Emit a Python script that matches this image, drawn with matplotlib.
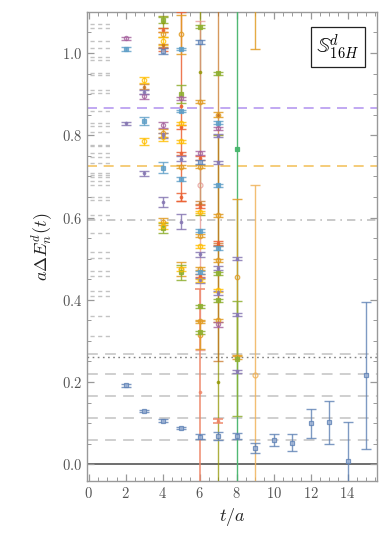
import numpy as np
import matplotlib
matplotlib.use("Agg")
import matplotlib.pyplot as plt

plt.rcParams['mathtext.fontset'] = 'cm'
plt.rcParams['font.family'] = ['DejaVu Serif']

# ---------------- data ----------------
# (t, value, error) triples, grouped by colour of the series
pts_blue = [(2, 0.192, 0.003), (3, 0.130, 0.003), (4, 0.106, 0.003), (5, 0.088, 0.003),
            (6, 0.067, 0.006), (7, 0.068, 0.010), (8, 0.069, 0.008), (9, 0.040, 0.012),
            (10, 0.059, 0.014), (11, 0.053, 0.020), (12, 0.100, 0.035), (13, 0.102, 0.053),
            (14, 0.008, 0.096), (15, 0.216, 0.178),
            (4, 1.005, 0.007), (6, 1.027, 0.004), (6, 0.735, 0.004)]
pts_purple = [(2, 0.829, 0.003), (3, 0.708, 0.006), (3, 0.905, 0.005), (4, 0.637, 0.012),
              (4, 0.800, 0.006), (5, 0.590, 0.019), (5, 0.743, 0.006), (6, 0.511, 0.006),
              (6, 0.447, 0.005), (7, 0.799, 0.004), (7, 0.734, 0.004), (7, 0.477, 0.005),
              (7, 0.417, 0.005), (8, 0.500, 0.004), (8, 0.364, 0.004), (8, 0.226, 0.004)]
pts_lightblue = [(2, 1.010, 0.004), (3, 0.835, 0.010), (4, 0.721, 0.013), (5, 1.010, 0.003),
                 (5, 0.859, 0.003), (5, 0.694, 0.004), (6, 0.568, 0.004), (6, 0.467, 0.004),
                 (7, 0.831, 0.004), (7, 0.678, 0.004), (7, 0.526, 0.004)]
pts_magenta = [(2, 1.036, 0.004), (3, 0.895, 0.006), (4, 0.825, 0.008), (5, 0.890, 0.004),
               (6, 0.757, 0.004), (7, 0.817, 0.004), (7, 0.340, 0.005)]
pts_gold = [(3, 0.935, 0.007), (3, 0.785, 0.008), (4, 1.030, 0.010), (4, 0.795, 0.010),
            (4, 0.580, 0.008), (5, 0.829, 0.004), (5, 0.785, 0.004), (5, 0.475, 0.004),
            (6, 0.614, 0.003), (6, 0.530, 0.004), (6, 0.447, 0.003), (7, 0.423, 0.004)]
pts_orange = [(4, 1.045, 0.005), (4, 0.590, 0.008), (4, 0.805, 0.010), (5, 1.045, 0.048),
              (5, 0.724, 0.004), (5, 0.476, 0.017), (6, 0.882, 0.004), (6, 0.724, 0.004),
              (6, 0.556, 0.004), (6, 0.476, 0.004), (6, 0.348, 0.004), (6, 0.314, 0.034),
              (7, 0.850, 0.006), (7, 0.605, 0.004), (7, 0.496, 0.004), (7, 0.350, 0.004),
              (8, 0.455, 0.190), (8, 0.260, 0.004), (9, 1.300, 0.290)]
pts_lightorange = [(9, 0.218, 0.460)]
pts_brown = [(3, 0.918, 0.006), (4, 1.019, 0.004), (6, 0.636, 0.004), (7, 0.534, 0.004),
             (7, 0.850, 0.600)]
pts_green = [(4, 1.080, 0.008), (4, 0.575, 0.012), (5, 0.900, 0.022), (5, 0.467, 0.018),
             (6, 0.384, 0.004), (6, 0.321, 0.004), (6, 1.064, 0.004), (7, 0.951, 0.004),
             (7, 0.464, 0.004), (7, 0.399, 0.004), (8, 0.2565, 0.140)]
pts_red = [(4, 1.056, 0.005), (4, 1.009, 0.004), (5, 0.870, 0.230), (5, 0.820, 0.004),
           (5, 0.756, 0.004), (5, 0.650, 0.010), (6, 0.745, 0.004), (6, 0.626, 0.004),
           (6, 0.459, 0.004), (7, 0.538, 0.004)]
pts_salmon = [(6, 0.176, 0.250), (7, 0.105, 0.004)]
pts_olive = [(4, 1.075, 0.014), (6, 0.955, 0.350), (7, 0.200, 0.600)]
pts_green2 = [(8, 0.767, 0.950)]
pts_pink = [(6, 0.678, 0.400)]

# reference levels (full width)
dashed_levels = [0.058, 0.112, 0.166, 0.219, 0.269]
dotted_level = 0.260
dashdot_level = 0.595
purple_level = 0.866
orange_level = 0.726
# short non-interacting levels drawn near t = 0..1
short_levels = [1.070, 1.061, 1.028, 1.013, 0.991, 0.983, 0.952, 0.947, 0.910, 0.902,
                0.858, 0.831, 0.823, 0.809, 0.777, 0.773, 0.757, 0.748, 0.732, 0.708,
                0.704, 0.698, 0.688, 0.680, 0.651, 0.643, 0.607, 0.562, 0.515, 0.502,
                0.469, 0.457, 0.421, 0.410, 0.360, 0.311]

x_ticks = [0, 2, 4, 6, 8, 10, 12, 14]
y_ticks = [0.0, 0.2, 0.4, 0.6, 0.8, 1.0]

# ---------------- figure ----------------
fig = plt.figure(figsize=(3.9, 5.39), dpi=100)
ax = fig.add_axes([0.223, 0.108, 0.744, 0.870])
ax.set_xlim(-0.1, 15.6)
ax.set_ylim(-0.04, 1.10)

# left short levels
for lv in short_levels:
    ax.plot([0.05, 1.15], [lv, lv], color='#b4b4b4', lw=1.0, dashes=(3, 2.5), alpha=0.8, zorder=1)

for lv in dashed_levels:
    ax.axhline(lv, color='#cccccc', lw=1.3, dashes=(6, 4), zorder=1)
ax.axhline(dotted_level, color='#808080', lw=1.0, dashes=(1.2, 2.5), zorder=1)
ax.axhline(dashdot_level, color='#c0c0c0', lw=1.2, dashes=(5, 3, 1, 3), zorder=1)
ax.axhline(purple_level, color='#b69af0', lw=1.2, dashes=(6, 4), zorder=1)
ax.axhline(orange_level, color='#f4c462', lw=1.2, dashes=(6, 4), zorder=1)
ax.axhline(0.0, color='#555555', lw=1.2, zorder=1)


def draw(pts, color, marker, alpha=0.85, mfc=None, ms=3.5, lw=1.0):
    t = np.array([p[0] for p in pts], float)
    v = np.array([p[1] for p in pts], float)
    e = np.array([p[2] for p in pts], float)
    ax.errorbar(t, v, yerr=e, fmt='none', ecolor=color, elinewidth=lw,
                capsize=3.6, capthick=lw, alpha=alpha, zorder=3)
    ax.plot(t, v, ls='none', marker=marker, ms=ms, color=color,
            mfc=(color if mfc is None else mfc), mew=0.9, alpha=alpha, zorder=4)


draw(pts_green2, '#47B66D', 's', alpha=0.95)
draw(pts_olive, '#929600', '.', alpha=0.75)
draw(pts_brown, '#C56E1A', '.', alpha=0.7)
draw(pts_pink, '#E48F8A', 'o', alpha=0.7, mfc='none')
draw(pts_salmon, '#EE8566', '.', alpha=0.75, lw=1.4)
draw(pts_lightorange, '#F0B35A', 'o', alpha=0.85, mfc='none')
draw(pts_red, '#EB6235', '.', alpha=0.85)
draw(pts_orange, '#E19C24', 'o', alpha=0.85, mfc='none', ms=3.2)
draw(pts_green, '#8FB032', 's', alpha=0.85, ms=2.8)
draw(pts_gold, '#FFBF00', 'o', alpha=0.8, mfc='none', ms=3.2)
draw(pts_magenta, '#A5609D', 'o', alpha=0.8, mfc='none', ms=3.0)
draw(pts_lightblue, '#5D9EC7', 's', alpha=0.8, ms=2.6)
draw(pts_purple, '#8778B3', '.', alpha=0.85)
draw(pts_blue, '#5E81B5', 's', alpha=0.8, ms=3.0, mfc='#9fb4d6')

# axes styling
for sp in ax.spines.values():
    sp.set_color('#999999')
    sp.set_linewidth(1.0)
ax.set_xticks(x_ticks)
ax.set_xticklabels([f'${v}$' for v in x_ticks])
ax.set_yticks(y_ticks)
ax.set_yticklabels([f'${v:.1f}$' for v in y_ticks])
ax.set_xticks(np.arange(0, 15.6, 0.5), minor=True)
ax.set_yticks(np.arange(-0.0, 1.1, 0.05), minor=True)
ax.tick_params(which='both', direction='in', top=True, right=True, colors='#999999',
               labelcolor='#555555', labelsize=10.5)
ax.tick_params(which='major', length=5, width=0.9)
ax.tick_params(which='minor', length=2.8, width=0.7)

ax.set_xlabel('$t/a$', fontsize=13, color='#222222', labelpad=4)
ax.set_ylabel(r'$a\Delta E_n^d(t)$', fontsize=13, color='#222222', labelpad=6)

ax.text(0.865, 0.925, r'$\mathbb{S}_{16H}^{d}$', transform=ax.transAxes, fontsize=15,
        ha='center', va='center', zorder=10,
        bbox=dict(boxstyle='square,pad=0.25', fc='white', ec='#222222', lw=0.9))

fig.savefig('out.png', dpi=100)
